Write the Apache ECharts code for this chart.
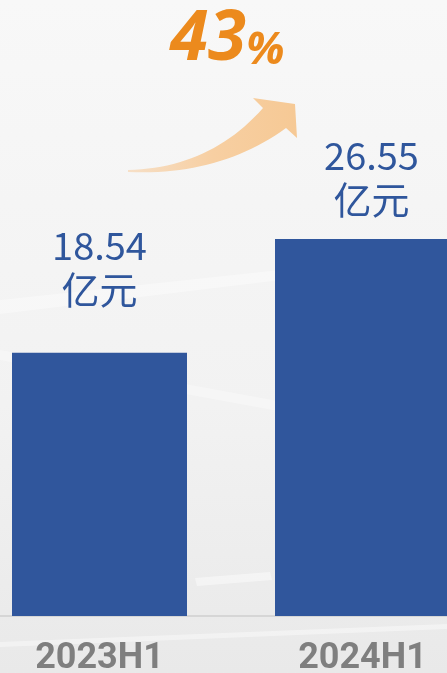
<!DOCTYPE html>
<html>
<head>
<meta charset="utf-8">
<script src="https://cdn.jsdelivr.net/npm/echarts@6/dist/echarts.min.js"></script>
<style>
    html, body { margin: 0; padding: 0; background: #f4f4f4; overflow: hidden; }
    #wrap { position: relative; width: 447px; height: 673px; overflow: hidden; }
    /* the right bar runs off the edge, so the canvas is wider than the window */
    #chart { position: absolute; left: -32px; top: 0; width: 526px; height: 673px; }
</style>
</head>
<body>
<div id="wrap"><div id="chart"></div></div>
<script>
// data
var categories = ['2023H1', '2024H1'];
var revenue = [18.54, 26.55];
var unit = '亿元';
var growthValue = '43';
var growthUnit = '%';

var chart = echarts.init(document.getElementById('chart'));

var labelBlue = '#2f569c';
var labelCfg = [
    { distance: 41, offset: [0, 0] },
    { distance: 17, offset: [9, 0] }
];

// curved arrow outline (decoration), sampled from two quadratic curves
function quad(p0, c, p1, n) {
    var pts = [];
    for (var i = 0; i <= n; i++) {
        var t = i / n, u = 1 - t;
        pts.push([u * u * p0[0] + 2 * u * t * c[0] + t * t * p1[0],
                  u * u * p0[1] + 2 * u * t * c[1] + t * t * p1[1]]);
    }
    return pts;
}
var arrowPts = quad([128, 170], [210, 168], [263, 108], 24)
    .concat([[253, 98], [295, 104], [297, 138]])
    .concat(quad([286, 128], [220, 176], [128, 172], 24));

chart.setOption({
    backgroundColor: new echarts.graphic.LinearGradient(0, 0, 0, 1, [
        { offset: 0, color: '#f8f8f8' },
        { offset: 0.6, color: '#f2f2f2' },
        { offset: 1, color: '#e9e9e9' }
    ]),
    animation: false,
    graphic: [{
        type: 'group',
        x: 32,
        y: 0,
        silent: true,
        children: [
            // faint light streaks in the background
            {
                type: 'polygon', z: -10,
                shape: { points: [[0, 300], [447, 252], [447, 260], [0, 314]] },
                style: { fill: 'rgba(255,255,255,0.35)' }
            },
            {
                type: 'polygon', z: -10,
                shape: { points: [[0, 350], [447, 432], [447, 442], [0, 360]] },
                style: { fill: 'rgba(255,255,255,0.3)' }
            },
            {
                type: 'polygon', z: -10,
                shape: { points: [[195, 578], [270, 572], [272, 580], [197, 586]] },
                style: { fill: 'rgba(255,255,255,0.45)' }
            },
            {
                type: 'polygon', z: -10,
                shape: { points: [[0, 642], [447, 624], [447, 629], [0, 647]] },
                style: { fill: 'rgba(255,255,255,0.4)' }
            },
            // growth arrow
            {
                type: 'polygon',
                shape: { points: arrowPts },
                style: {
                    fill: new echarts.graphic.LinearGradient(0, 0, 1, 0, [
                        { offset: 0, color: 'rgba(247,205,160,0.55)' },
                        { offset: 0.5, color: '#f7cfa2' },
                        { offset: 1, color: '#f6c995' }
                    ])
                }
            },
            // growth rate
            {
                type: 'text',
                x: 170,
                y: 6,
                style: {
                    text: '{n|' + growthValue + '}{p|' + growthUnit + '}',
                    rich: {
                        n: {
                            fontSize: 69,
                            fontStyle: 'italic',
                            fontWeight: 'bold',
                            fontFamily: 'Open Sans',
                            fill: '#ec8a1d',
                            lineHeight: 68
                        },
                        p: {
                            fontSize: 45,
                            fontStyle: 'italic',
                            fontWeight: 'bold',
                            fontFamily: 'Open Sans',
                            fill: '#ec8a1d',
                            lineHeight: 68,
                            verticalAlign: 'bottom'
                        }
                    }
                }
            }
        ]
    }],
    grid: {
        left: 0,
        right: 0,
        top: 190,
        bottom: 57,
        containLabel: false,
        outerBoundsMode: 'none'
    },
    xAxis: {
        type: 'category',
        data: categories,
        axisTick: { show: false },
        axisLine: { lineStyle: { color: '#d6d6d6', width: 2 } },
        axisLabel: {
            margin: 25,
            fontSize: 36,
            fontWeight: 'bold',
            fontFamily: 'Roboto',
            color: '#7f7f7f'
        }
    },
    yAxis: {
        type: 'value',
        min: 0,
        max: 30,
        show: false,
        splitLine: { show: false }
    },
    series: [{
        type: 'bar',
        barWidth: 175,
        itemStyle: { color: '#30569c' },
        data: revenue.map(function (v, i) {
            return {
                value: v,
                label: {
                    show: true,
                    position: 'top',
                    distance: labelCfg[i].distance,
                    offset: labelCfg[i].offset,
                    formatter: '{c}\n' + unit,
                    fontSize: 38,
                    lineHeight: 44,
                    fontFamily: 'Noto Sans CJK SC',
                    color: labelBlue
                }
            };
        })
    }]
});
</script>
</body>
</html>
